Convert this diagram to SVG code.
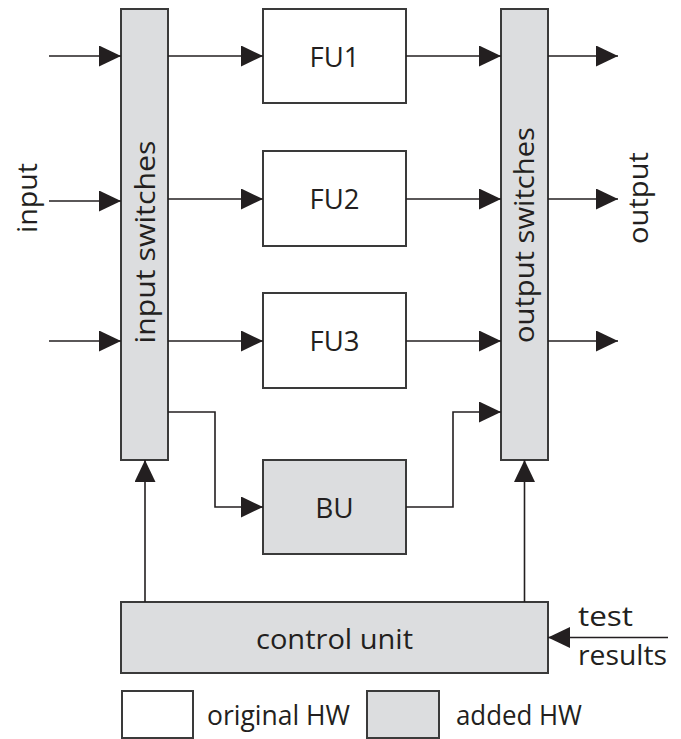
<svg xmlns="http://www.w3.org/2000/svg" width="681" height="739" viewBox="0 0 681 739">
<style>
.box{fill:#ffffff;stroke:#3a3a3a;stroke-width:2}
.add{fill:#dcdddf;stroke:#3a3a3a;stroke-width:2}
.ln{fill:none;stroke:#231f20;stroke-width:1.6}
.t{font-family:"Open Sans","Liberation Sans",sans-serif;font-size:27px;fill:#231f20}
.b{font-size:28px}
.m{text-anchor:middle}
</style>
<defs>
<marker id="ah" viewBox="0 0 22 21" refX="22" refY="10.5" markerWidth="22" markerHeight="21" markerUnits="userSpaceOnUse" orient="auto">
<path d="M0,0 L22,10.5 L0,21 Z" fill="#231f20"/>
</marker>
</defs>
<rect width="681" height="739" fill="#ffffff"/>
<g id="input-switches">
<rect class="add" x="121" y="9" width="47" height="451"/>
<text class="t m" transform="translate(155,242) rotate(-90)" textLength="203" lengthAdjust="spacingAndGlyphs">input switches</text>
</g>
<g id="output-switches">
<rect class="add" x="501" y="9" width="47" height="451"/>
<text class="t m" transform="translate(534,235) rotate(-90)" textLength="216" lengthAdjust="spacingAndGlyphs">output switches</text>
</g>
<g id="fu1">
<rect class="box" x="263" y="9" width="143" height="94"/>
<text class="t b m" x="334.5" y="66.5" textLength="50" lengthAdjust="spacingAndGlyphs">FU1</text>
</g>
<g id="fu2">
<rect class="box" x="263" y="151" width="143" height="95"/>
<text class="t b m" x="334.5" y="209" textLength="50" lengthAdjust="spacingAndGlyphs">FU2</text>
</g>
<g id="fu3">
<rect class="box" x="263" y="293" width="143" height="95"/>
<text class="t b m" x="334.5" y="351" textLength="50" lengthAdjust="spacingAndGlyphs">FU3</text>
</g>
<g id="bu">
<rect class="add" x="263" y="460" width="143" height="94"/>
<text class="t b m" x="334.5" y="518">BU</text>
</g>
<g id="control-unit">
<rect class="add" x="121" y="602" width="427" height="71"/>
<text class="t b m" x="334.5" y="649" textLength="157" lengthAdjust="spacingAndGlyphs">control unit</text>
</g>
<g id="labels">
<text class="t m" transform="translate(36.5,198) rotate(-90)" textLength="70" lengthAdjust="spacingAndGlyphs">input</text>
<text class="t m" transform="translate(648,198) rotate(-90)" textLength="92" lengthAdjust="spacingAndGlyphs">output</text>
<text class="t b" x="578" y="626" textLength="55" lengthAdjust="spacingAndGlyphs">test</text>
<text class="t b" x="578" y="665" textLength="89" lengthAdjust="spacingAndGlyphs">results</text>
</g>
<g id="legend">
<rect class="box" x="122" y="691" width="71" height="47"/>
<text class="t b" x="207" y="725" textLength="143" lengthAdjust="spacingAndGlyphs">original HW</text>
<rect class="add" x="367" y="691" width="72" height="47"/>
<text class="t b" x="456" y="725" textLength="126" lengthAdjust="spacingAndGlyphs">added HW</text>
</g>
<g id="connectors">
<path class="ln" d="M49,56 H121" marker-end="url(#ah)"/>
<path class="ln" d="M49,201 H121" marker-end="url(#ah)"/>
<path class="ln" d="M49,341 H121" marker-end="url(#ah)"/>
<path class="ln" d="M168,56 H263" marker-end="url(#ah)"/>
<path class="ln" d="M168,199 H263" marker-end="url(#ah)"/>
<path class="ln" d="M168,341 H263" marker-end="url(#ah)"/>
<path class="ln" d="M406,56 H501" marker-end="url(#ah)"/>
<path class="ln" d="M406,199 H501" marker-end="url(#ah)"/>
<path class="ln" d="M406,341 H501" marker-end="url(#ah)"/>
<path class="ln" d="M548,56 H618" marker-end="url(#ah)"/>
<path class="ln" d="M548,199 H618" marker-end="url(#ah)"/>
<path class="ln" d="M548,341 H618" marker-end="url(#ah)"/>
<path class="ln" d="M168,412 H215 V507 H263" marker-end="url(#ah)"/>
<path class="ln" d="M406,507 H453 V412 H501" marker-end="url(#ah)"/>
<path class="ln" d="M145,602 V460" marker-end="url(#ah)"/>
<path class="ln" d="M524.5,602 V460" marker-end="url(#ah)"/>
<path class="ln" d="M668,637.5 H548" marker-end="url(#ah)"/>
</g>
</svg>
